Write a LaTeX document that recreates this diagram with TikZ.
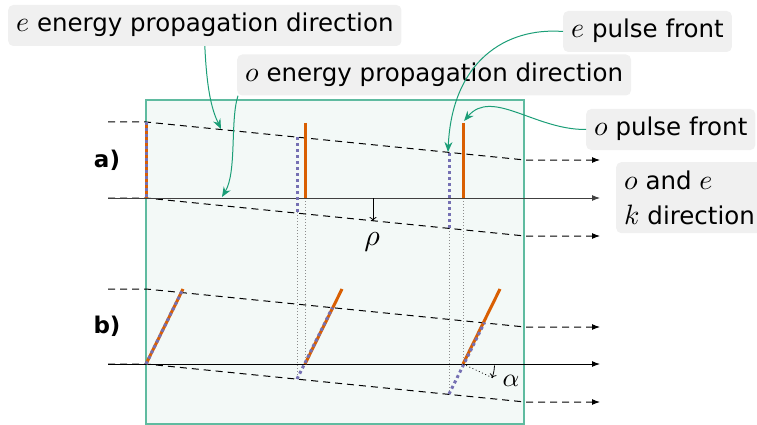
\RequirePackage{fix-cm}
\documentclass[tikz,border=0pt]{standalone}
\usepackage{fontspec}
\setmainfont{DejaVu Sans}
\DeclareFontFamily{OML}{cmm}{\skewchar\font'177}
\DeclareFontShape{OML}{cmm}{m}{it}{<-> cmmi10}{}
\usetikzlibrary{arrows.meta}
\definecolor{dgreen}{HTML}{1B9E77}
\definecolor{dorange}{HTML}{D95F02}
\definecolor{dpurple}{HTML}{7570B3}
\definecolor{lblfill}{HTML}{F0F0F0}
\definecolor{panel}{HTML}{F3F9F7}
\newcommand\mth[1]{{\fontsize{28}{30}\selectfont$#1$}}
\begin{document}
\begin{tikzpicture}[x=1pt,y=-1pt,
  lbl/.style={fill=lblfill, rounded corners=5pt, inner xsep=8pt, inner ysep=8.25pt,
    text height=18.6pt, text depth=5.9pt, font=\fontsize{24.5}{35}\selectfont},
  lbltwo/.style={fill=lblfill, rounded corners=5pt, inner xsep=8pt, inner ysep=8.5pt,
    align=left, font=\fontsize{24.5}{35}\selectfont},
  conn/.style={draw=dgreen, line width=1pt, -{Stealth[length=10pt,width=8pt]}},
  energy/.style={line width=1pt, dash pattern=on 7pt off 5pt, -{Latex[length=8pt,width=6pt]}},
  kaxis/.style={line width=1pt, -{Latex[length=8pt,width=6pt]}},
  ofront/.style={draw=dorange, line width=3pt},
  efront/.style={draw=dpurple, line width=3pt, dash pattern=on 3pt off 3pt},
  guide/.style={draw=black!45, line width=0.6pt, dash pattern=on 1pt off 2pt},
  panellbl/.style={font=\fontsize{23}{28}\selectfont\bfseries},
  mathlbl/.style={font=\fontsize{30}{34}\selectfont, inner sep=0pt},
  small/.style={line width=0.8pt, -{To[length=4pt,width=7pt]}}
]
\useasboundingbox (0,0) rectangle (757,425);
% panel
\draw[draw=dgreen!70, fill=panel, line width=1.8pt] (146,100) rectangle (524,424);

% ---------------- part a ----------------
\coordinate (aU0) at (108,122);
\coordinate (aU1) at (146,122);
\coordinate (aU2) at (525,160);
\coordinate (aU3) at (600,160);
\coordinate (aL0) at (108,198);
\coordinate (aL1) at (146,198);
\coordinate (aL2) at (525,236);
\coordinate (aL3) at (600,236);
\coordinate (aK0) at (108,198);
\coordinate (aK1) at (600,198);

% guides
\coordinate (g1t) at (297,212); \coordinate (g1b) at (297,379);
\coordinate (g2t) at (305,198); \coordinate (g2b) at (305,364);
\coordinate (g3t) at (449,228); \coordinate (g3b) at (449,394);
\coordinate (g4t) at (463,198); \coordinate (g4b) at (463,364);
\draw[guide] (g1t) -- (g1b);
\draw[guide] (g2t) -- (g2b);
\draw[guide] (g3t) -- (g3b);
\draw[guide] (g4t) -- (g4b);

\draw[energy] (aU0) -- (aU1) -- (aU2) -- (aU3);
\draw[energy] (aL0) -- (aL1) -- (aL2) -- (aL3);
\draw[kaxis, draw=black!75] (aK0) -- (aK1);

% fronts a
\coordinate (oa1t) at (146,122); \coordinate (oa1b) at (146,198);
\coordinate (oa2t) at (305,123); \coordinate (oa2b) at (305,198);
\coordinate (oa3t) at (463,123); \coordinate (oa3b) at (463,198);
\coordinate (ea2t) at (297,137); \coordinate (ea2b) at (297,212);
\coordinate (ea3t) at (449,153); \coordinate (ea3b) at (449,228);
\draw[ofront] (oa1t) -- (oa1b);
\draw[efront] (oa1t) -- (oa1b);
\draw[ofront] (oa2t) -- (oa2b);
\draw[efront] (ea2t) -- (ea2b);
\draw[ofront] (oa3t) -- (oa3b);
\draw[efront] (ea3t) -- (ea3b);

% rho
\coordinate (r0) at (373,198);
\coordinate (r1) at (373,221);
\draw[small] (r0) -- (r1);
\node[mathlbl] (rho) at (372,242) {$\rho$};

% ---------------- part b ----------------
\coordinate (bU0) at (108,289);
\coordinate (bU1) at (146,289);
\coordinate (bU2) at (525,327);
\coordinate (bU3) at (600,327);
\coordinate (bL0) at (108,364);
\coordinate (bL1) at (146,364);
\coordinate (bL2) at (525,402);
\coordinate (bL3) at (600,402);
\coordinate (bK0) at (108,364);
\coordinate (bK1) at (600,364);
\draw[energy] (bU0) -- (bU1) -- (bU2) -- (bU3);
\draw[energy] (bL0) -- (bL1) -- (bL2) -- (bL3);
\draw[kaxis] (bK0) -- (bK1);

\coordinate (ob1b) at (146,364); \coordinate (ob1t) at (183,289);
\coordinate (ob2b) at (305,364); \coordinate (ob2t) at (342,289);
\coordinate (ob3b) at (463,364); \coordinate (ob3t) at (500,289);
\coordinate (eb2b) at (297,379); \coordinate (eb2t) at (332.5,307.5);
\coordinate (eb3b) at (449,394); \coordinate (eb3t) at (484.5,322.5);
\draw[ofront] (ob1b) -- (ob1t);
\draw[efront] (ob1b) -- (ob1t);
\draw[ofront] (ob2b) -- (ob2t);
\draw[efront] (eb2b) -- (eb2t);
\draw[ofront] (ob3b) -- (ob3t);
\draw[efront] (eb3b) -- (eb3t);

% alpha
\coordinate (nrm) at (493,378);
\draw[line width=0.7pt, dash pattern=on 1pt off 2.5pt] (ob3b) -- (nrm);
\coordinate (al0) at (494.5,365.5);
\coordinate (al1) at (492,378);
\draw[small] (al0) to[bend left=8] (al1);
\node[mathlbl, font=\fontsize{26}{30}\selectfont] (alpha) at (511,381) {$\alpha$};

% panel labels
\node[panellbl] (la) at (107,160) {a)};
\node[panellbl] (lb) at (107,326) {b)};

% ---------------- callouts ----------------
\node[lbl, anchor=west] (n1) at (8,25.5) {\mth{e} energy propagation direction};
\node[lbl, anchor=west] (n2) at (237,75) {\mth{o} energy propagation direction};
\node[lbl, anchor=west] (n3) at (563,31.5) {\mth{e} pulse front};
\node[lbl, anchor=west] (n4) at (586,129.5) {\mth{o} pulse front};
\node[lbltwo, anchor=north west] (n5) at (616,162) {\mth{o} and \mth{e}\\\mth{k} direction};

\coordinate (t1) at (221,129);
\coordinate (t2) at (222,197);
\coordinate (t3) at (448,152);
\coordinate (t4) at (464,121);
\draw[conn] (n1.south) .. controls (207,95) and (213,112) .. (t1);
\draw[conn] ([xshift=1pt]n2.south west) .. controls (230,120) and (237,172) .. (t2);
\draw[conn] (n3.west) .. controls (505,27) and (452,62) .. (t3);
\draw[conn] (n4.west) .. controls (535,130) and (492,88) .. (t4);
\end{tikzpicture}
\end{document}
